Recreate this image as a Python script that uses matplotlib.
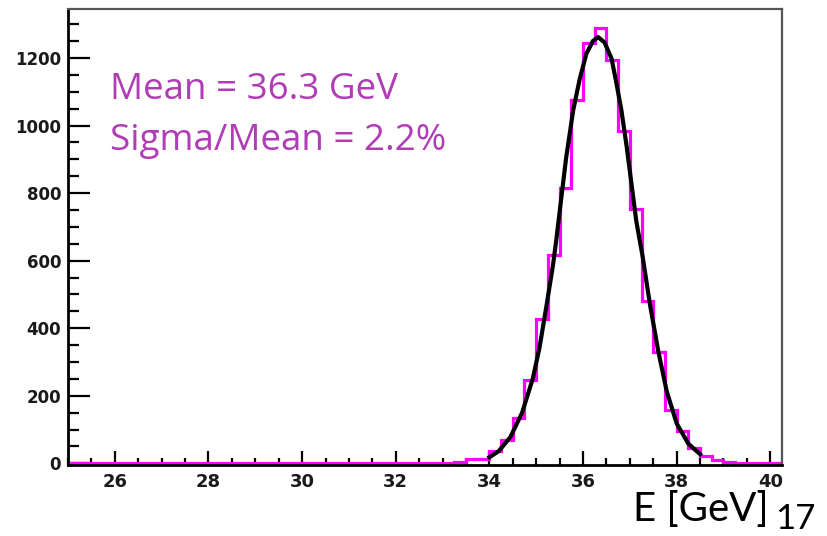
import numpy as np
import matplotlib
matplotlib.use('Agg')
from matplotlib import pyplot as plt
from matplotlib.ticker import MultipleLocator

# histogram: 0.25 GeV bins from 25 to 40.25
bin_edges = np.arange(25.0, 40.25 + 0.001, 0.25)
counts = [0] * 33 + [
    5, 12, 12,                      # 33.25 .. 33.75
    35, 70, 134, 246,               # 34.00 .. 34.75
    426, 617, 815, 1075,            # 35.00 .. 35.75
    1245, 1290, 1193, 983,          # 36.00 .. 36.75
    754, 482, 330, 158,             # 37.00 .. 37.75
    96, 46, 22, 9,                  # 38.00 .. 38.75
    3, 2, 1, 0,                     # 39.00 .. 39.75
    0,                              # 40.00
]

# fitted curve
fit_x = [34.0, 34.2, 34.45, 34.7, 34.93, 35.07, 35.21, 35.36, 35.43, 35.54,
         35.64, 35.79, 35.93, 36.07, 36.21, 36.32, 36.46, 36.61, 36.71, 36.82,
         36.93, 37.04, 37.14, 37.27, 37.43, 37.61, 37.79, 38.0, 38.25, 38.5]
fit_y = [18, 36, 78, 150, 252, 342, 458, 588, 662, 790,
         905, 1045, 1138, 1212, 1250, 1262, 1246, 1198, 1128, 1045,
         940, 822, 715, 615, 470, 330, 212, 118, 58, 27]

xticks = [26, 28, 30, 32, 34, 36, 38, 40]
yticks = [0, 200, 400, 600, 800, 1000, 1200]

W, H = 827, 536
fig = plt.figure(figsize=(W / 100, H / 100), dpi=100)
ax = fig.add_axes([68 / W, 1 - 465 / H, (782 - 68) / W, (465 - 9) / H])

ax.stairs(counts, bin_edges, baseline=None, color='#ff00ff', linewidth=2.3, zorder=2)
ax.plot(fit_x, fit_y, color='black', linewidth=3.0, zorder=3, solid_joinstyle='round')

ax.set_xlim(25, 40.25)
ax.set_ylim(-5, 1345)
ax.set_xticks(xticks)
ax.set_yticks(yticks)
ax.xaxis.set_minor_locator(MultipleLocator(0.5))
ax.yaxis.set_minor_locator(MultipleLocator(50))

ax.tick_params(axis='both', which='both', direction='in', top=False, right=False,
               width=1.6, color='black')
ax.tick_params(axis='y', which='major', length=16, pad=5, labelsize=12)
ax.tick_params(axis='y', which='minor', length=8)
ax.tick_params(axis='x', which='major', length=10, pad=6, labelsize=13)
ax.tick_params(axis='x', which='minor', length=5)
for lab in ax.get_xticklabels() + ax.get_yticklabels():
    lab.set_fontweight('bold')
    lab.set_color('#1a1a1a')

for s in ('left', 'bottom'):
    ax.spines[s].set_linewidth(2.0)
    ax.spines[s].set_color('black')
for s in ('top', 'right'):
    ax.spines[s].set_linewidth(1.6)
    ax.spines[s].set_color('#555555')

purple = '#b03cb6'
fig.text(110 / W, 1 - 99 / H, 'Mean = 36.3 GeV', color=purple, fontsize=26.5,
         family='Open Sans', va='baseline', ha='left')
fig.text(110 / W, 1 - 150 / H, 'Sigma/Mean = 2.2%', color=purple, fontsize=26.5,
         family='Open Sans', va='baseline', ha='left')
fig.text(633 / W, 1 - 521 / H, 'E [GeV]', color='black', fontsize=29,
         family='Lato', va='baseline', ha='left')
fig.text(775 / W, 0.002, '17', color='black', fontsize=25,
         family='Lato', va='bottom', ha='left')

fig.savefig('out.png', dpi=100)
